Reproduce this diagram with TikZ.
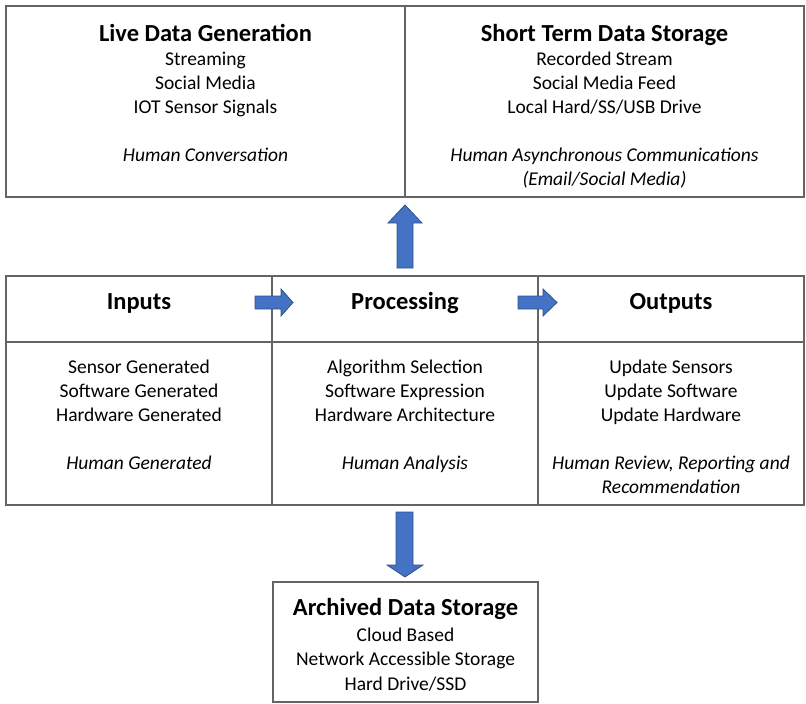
\documentclass[tikz,border=0pt]{standalone}
\usepackage{fontspec}
\setmainfont{Carlito}
\definecolor{frame}{RGB}{100,100,100}
\definecolor{arrowfill}{RGB}{68,114,196}
\definecolor{arrowline}{RGB}{47,82,143}
\begin{document}
\begin{tikzpicture}[x=1pt,y=-1pt,
  cell/.style={draw=frame,line width=1.4pt,inner sep=0pt,outer sep=0pt,anchor=north west},
  ttl/.style={font=\bfseries\fontsize{24.5}{28}\selectfont,inner sep=0pt,anchor=base},
  txt/.style={font=\fontsize{19.5}{23}\selectfont,inner sep=0pt,anchor=base},
  itx/.style={font=\itshape\fontsize{19.5}{23}\selectfont,inner sep=0pt,anchor=base},
  blockarrow/.style={fill=arrowfill,draw=arrowline,line width=0.8pt,line join=miter}]
\useasboundingbox (0,0) rectangle (806,704);

% top row: live data and short term storage
\node[cell,minimum width=399pt,minimum height=191pt] (live) at (6,6) {};
\node[cell,minimum width=399pt,minimum height=191pt] (short) at (405,6) {};

% middle row: inputs, processing, outputs (header and body cells)
\node[cell,minimum width=266pt,minimum height=66pt] (inH) at (6,276) {};
\node[cell,minimum width=266pt,minimum height=66pt] (prH) at (272,276) {};
\node[cell,minimum width=266pt,minimum height=66pt] (outH) at (538,276) {};
\node[cell,minimum width=266pt,minimum height=163pt] (inB) at (6,342) {};
\node[cell,minimum width=266pt,minimum height=163pt] (prB) at (272,342) {};
\node[cell,minimum width=266pt,minimum height=163pt] (outB) at (538,342) {};

% bottom: archive
\node[cell,minimum width=265pt,minimum height=120pt] (arch) at (273,582) {};

% texts of the live data box
\node[ttl] (live-t) at (205.5,41) {Live Data Generation};
\node[txt] (live-1) at (205.5,65) {Streaming};
\node[txt] (live-2) at (205.5,89) {Social Media};
\node[txt] (live-3) at (205.5,113) {IOT Sensor Signals};
\node[itx] (live-4) at (205.5,161) {Human Conversation};

% texts of the short term storage box
\node[ttl] (short-t) at (604.5,41) {Short Term Data Storage};
\node[txt] (short-1) at (604.5,65) {Recorded Stream};
\node[txt] (short-2) at (604.5,89) {Social Media Feed};
\node[txt] (short-3) at (604.5,113) {Local Hard/SS/USB Drive};
\node[itx] (short-4) at (604.5,161) {Human Asynchronous Communications};
\node[itx] (short-5) at (604.5,185.5) {(Email/Social Media)};

% headers
\node[ttl] (in-t) at (139,309) {Inputs};
\node[ttl] (pr-t) at (405,309) {Processing};
\node[ttl] (out-t) at (671,309) {Outputs};

% inputs
\node[txt] (in-1) at (139,373) {Sensor Generated};
\node[txt] (in-2) at (139,397) {Software Generated};
\node[txt] (in-3) at (139,421) {Hardware Generated};
\node[itx] (in-4) at (139,469) {Human Generated};

% processing
\node[txt] (pr-1) at (405,373) {Algorithm Selection};
\node[txt] (pr-2) at (405,397) {Software Expression};
\node[txt] (pr-3) at (405,421) {Hardware Architecture};
\node[itx] (pr-4) at (405,469) {Human Analysis};

% outputs
\node[txt] (out-1) at (671,373) {Update Sensors};
\node[txt] (out-2) at (671,397) {Update Software};
\node[txt] (out-3) at (671,421) {Update Hardware};
\node[itx] (out-4) at (671,469) {Human Review, Reporting and};
\node[itx] (out-5) at (671,493) {Recommendation};

% archive
\node[ttl] (arch-t) at (405.5,615) {Archived Data Storage};
\node[txt] (arch-1) at (405.5,641) {Cloud Based};
\node[txt] (arch-2) at (405.5,665.5) {Network Accessible Storage};
\node[txt] (arch-3) at (405.5,690) {Hard Drive/SSD};

% block arrows
\draw[blockarrow] (397,268) -- (397,223) -- (388,223) -- (405,205) -- (422,223)
  -- (413,223) -- (413,268) -- cycle;
\draw[blockarrow] (255,296) -- (281,296) -- (281,289) -- (293,302.5) -- (281,316)
  -- (281,309) -- (255,309) -- cycle;
\draw[blockarrow] (518,296) -- (543,296) -- (543,289) -- (557,302.5) -- (543,316)
  -- (543,309) -- (518,309) -- cycle;
\draw[blockarrow] (396,512) -- (413,512) -- (413,565) -- (423,565) -- (405,577)
  -- (387,565) -- (396,565) -- cycle;
\end{tikzpicture}
\end{document}
